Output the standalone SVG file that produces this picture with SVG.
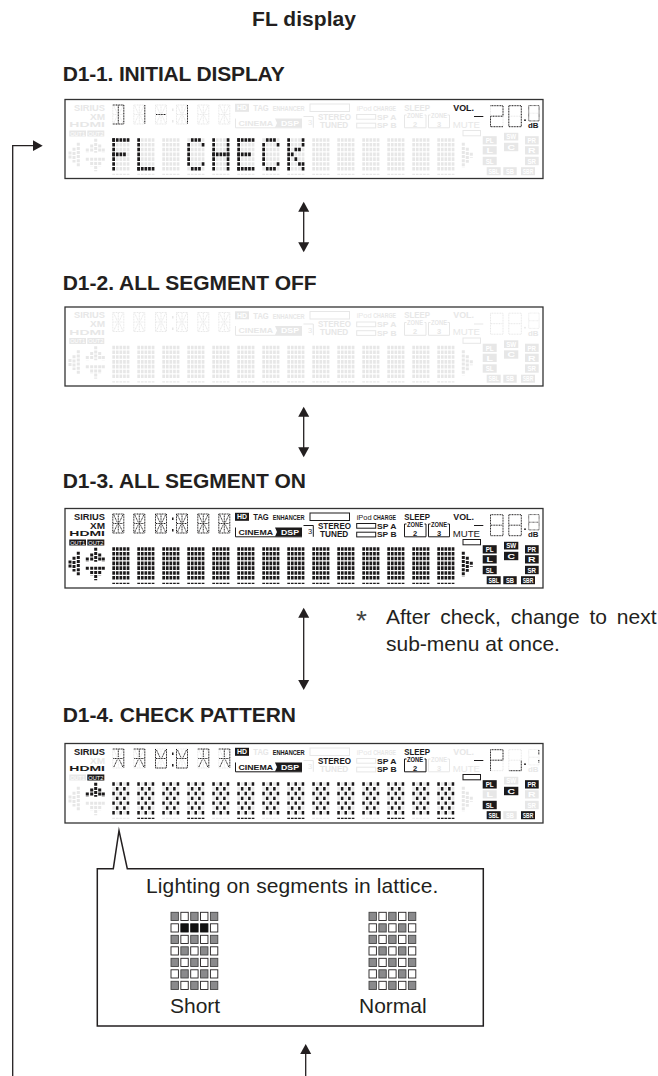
<svg xmlns="http://www.w3.org/2000/svg" width="658" height="1076" viewBox="0 0 658 1076">
<style>
text{font-family:"Liberation Sans",Arial,sans-serif}
.hd{font-size:21px;font-weight:700;fill:#231f20}
.bd{font-size:21px;fill:#231f20}
defs text{fill:currentColor}
defs text.w{fill:#fff}
defs text.b{font-weight:700}
.box{fill:currentColor}
.ol{fill:none;stroke:currentColor;stroke-width:1}
.sg{fill:none;stroke:currentColor;stroke-width:1;stroke-dasharray:1 .6}
.r{fill:none;stroke:currentColor;stroke-width:3.6;stroke-dasharray:2.7 .9}
.u{fill:none;stroke:currentColor;stroke-width:1.4;stroke-dasharray:2.7 .9}
.l{fill:none;stroke:currentColor;stroke-width:3.4;stroke-dasharray:2.5 4.7}
.v{fill:none;stroke:currentColor;stroke-width:2.7;stroke-dasharray:3.6 1.2}
.p{fill:none;stroke:currentColor;stroke-width:3;stroke-dasharray:3 1.1}
.gh{color:#e7e7e7}
.lit{color:#1c1a1b}
.pn{fill:#fff;stroke:#333;stroke-width:1.3}
.cn{fill:none;stroke:#231f20;stroke-width:1.3}
.c0{fill:#fff;stroke:#231f20;stroke-width:.9}
.c1{fill:#8a8a8c;stroke:#444;stroke-width:.9}
.c2{fill:#111;stroke:#111;stroke-width:.9}
</style>
<defs>
<marker id="ah" markerUnits="userSpaceOnUse" markerWidth="12" markerHeight="12" refX="8" refY="6" orient="auto-start-reverse"><path d="M0 .5L10 6L0 11.5Z" fill="#231f20"/></marker>

<!-- dot matrix -->
<g id="mx"><path class="r" d="M0 1.95H17.5M0 6.75H17.5M0 11.55H17.5M0 16.35H17.5M0 21.15H17.5M0 25.95H17.5M0 30.75H17.5"/></g>
<path id="ul" class="u" d="M0 36.4H17.5"/>
<g id="lat"><path class="l" d="M0 1.95H17.5M3.6 6.75H14M0 11.55H17.5M3.6 16.35H14M0 21.15H17.5M3.6 25.95H14M0 30.75H17.5"/></g>
<g id="mxs" transform="translate(0 38.5)">
<use href="#mx" x="47.3"/><use href="#mx" x="72.3"/><use href="#mx" x="97.3"/><use href="#mx" x="122.3"/><use href="#mx" x="147.3"/><use href="#mx" x="172.3"/><use href="#mx" x="197.3"/><use href="#mx" x="222.3"/><use href="#mx" x="247.3"/><use href="#mx" x="272.3"/><use href="#mx" x="297.3"/><use href="#mx" x="322.3"/><use href="#mx" x="347.3"/><use href="#mx" x="372.3"/>
<use href="#ul" x="47.3"/><use href="#ul" x="72.3"/><use href="#ul" x="97.3"/><use href="#ul" x="122.3"/><use href="#ul" x="147.3"/><use href="#ul" x="172.3"/><use href="#ul" x="197.3"/><use href="#ul" x="222.3"/><use href="#ul" x="247.3"/><use href="#ul" x="272.3"/><use href="#ul" x="297.3"/><use href="#ul" x="322.3"/><use href="#ul" x="347.3"/><use href="#ul" x="372.3"/>
</g>
<g id="lats">
<use href="#lat" x="47.3"/><use href="#lat" x="72.3"/><use href="#lat" x="97.3"/><use href="#lat" x="122.3"/><use href="#lat" x="147.3"/><use href="#lat" x="172.3"/><use href="#lat" x="197.3"/><use href="#lat" x="222.3"/><use href="#lat" x="247.3"/><use href="#lat" x="272.3"/><use href="#lat" x="297.3"/><use href="#lat" x="322.3"/><use href="#lat" x="347.3"/><use href="#lat" x="372.3"/>
<use href="#ul" x="72.3"/><use href="#ul" x="122.3"/><use href="#ul" x="172.3"/><use href="#ul" x="222.3"/><use href="#ul" x="272.3"/><use href="#ul" x="322.3"/><use href="#ul" x="372.3"/>
</g>
<g id="gF"><path class="v" d="M1.35 .15V32.7"/><path class="r" d="M0 1.95H17.5M0 16.35H13.7"/></g>
<g id="gL"><path class="v" d="M1.35 .15V32.7"/><path class="r" d="M0 30.75H17.5"/></g>
<g id="gC"><path class="v" d="M1.35 4.95V27.9"/><path class="r" d="M3.6 1.95H13.7M3.6 30.75H13.7M14.4 6.75h2.7M14.4 25.95h2.7"/></g>
<g id="gH"><path class="v" d="M1.35 .15V32.7M15.75 .15V32.7"/><path class="r" d="M0 16.35H17.5"/></g>
<g id="gE"><path class="v" d="M1.35 .15V32.7"/><path class="r" d="M0 1.95H17.5M0 16.35H13.7M0 30.75H17.5"/></g>
<g id="gK"><path class="v" d="M1.35 .15V32.7M15.75 .15V8.7M15.75 24.15V32.7"/><path class="r" d="M10.8 11.55h2.7M7.2 11.55h2.7M3.6 16.35h2.7M7.2 21.15h2.7M10.8 25.95h2.7"/></g>

<!-- 14-segment character -->
<g id="s14"><path class="sg" d="M.5 .5H11.5M.5 19.5H11.5M1 10H11M.5 .5V19.5M11.5 .5V19.5M6 1V19M1.5 1.5L5 9M10.5 1.5L7 9M1.5 18.5L5 11M10.5 18.5L7 11"/></g>
<g id="c14">
<use href="#s14" x="47.3" y="5"/><use href="#s14" x="68.3" y="5"/><use href="#s14" x="90" y="5"/><use href="#s14" x="111" y="5"/><use href="#s14" x="132.3" y="5"/><use href="#s14" x="153.3" y="5"/>
<path id="colon" class="box" d="M107 9h1.5v2.5H107zM107 20.5h1.5V23H107z"/>
</g>
<path id="gD1" class="sg" d="M.5 .5H11.5M.5 19.5H11.5M11.5 .5V19.5M6 1V19"/>
<path id="g1" class="sg" d="M11.5 .5V19.5"/>
<path id="gDash" class="sg" d="M1 10H11"/>
<path id="gA" class="sg" d="M.5 .5H11.5M11.5 .5V19.5M6 1V9M1 10H11M1.5 18.5L5 11M10.5 18.5L7 11"/>
<path id="gB" class="sg" d="M.5 .5V19.5M11.5 .5V19.5M1.5 1.5L5 9M10.5 1.5L7 9M1 10H11M.5 19.5H11.5"/>

<!-- left indicators -->
<path id="arL" class="p" d="M13.3 43.3V68M9 48.3V63M5 52V60"/>
<path id="arU" class="p" d="M30.7 39.3V53.3M26.7 45V53.3M34.7 45V53.3M22.3 49V53.3M38.3 49V53.3"/>
<path id="arD" class="p" d="M30.7 58.3V71.7M26.7 58.3V66.7M34.7 58.3V66.7M22.3 58.3V62.3M38.3 58.3V62.3"/>
<path id="arR" class="p" d="M398.3 43.3V68.3M402.3 48.3V63.3M406.3 53.3V58.3"/>

<!-- labels -->
<text id="sirius" class="b" x="9" y="11" font-size="9.2" textLength="31" lengthAdjust="spacingAndGlyphs">SIRIUS</text>
<text id="xm" class="b" x="25" y="20" font-size="9.5" textLength="15" lengthAdjust="spacingAndGlyphs">XM</text>
<text id="hdmi" class="b" x="4.3" y="27.7" font-size="7.8" textLength="35.7" lengthAdjust="spacingAndGlyphs">HDMI</text>
<g id="out1"><rect class="box" x="4.3" y="31" width="16.7" height="6"/><text class="w" x="5.3" y="36" font-size="5.5" textLength="14.7" lengthAdjust="spacingAndGlyphs">OUT1</text></g>
<g id="out2"><rect class="box" x="22.3" y="31" width="17" height="6"/><text class="w" x="23.3" y="36" font-size="5.5" textLength="15" lengthAdjust="spacingAndGlyphs">OUT2</text></g>
<g id="hdb"><rect class="box" x="170" y="4.3" width="14" height="8"/><text class="w b" x="172" y="10.9" font-size="7.5" textLength="10" lengthAdjust="spacingAndGlyphs">HD</text></g>
<text id="tag" class="b" x="188.3" y="11.7" font-size="8.4" textLength="15.5" lengthAdjust="spacingAndGlyphs">TAG</text>
<text id="enh" class="b" x="207.7" y="11.5" font-size="7.5" textLength="32" lengthAdjust="spacingAndGlyphs">ENHANCER</text>
<rect id="bar" class="ol" x="245" y="4.5" width="39.5" height="7.5"/>
<g id="cin"><path class="ol" d="M170.5 19V28.3H237"/><text class="b" x="173.5" y="26" font-size="7.5" textLength="34.5" lengthAdjust="spacingAndGlyphs">CINEMA</text><path class="box" d="M210 19H237V28H210L212 23.5Z"/><text class="w b" x="216" y="26" font-size="7" textLength="18" lengthAdjust="spacingAndGlyphs">DSP</text></g>
<g id="c3"><path class="ol" d="M238.5 17H248.3V28.3"/><text x="243" y="25.5" font-size="7.5">3</text></g>
<text id="stereo" class="b" x="253" y="20" font-size="8.2" textLength="33" lengthAdjust="spacingAndGlyphs">STEREO</text>
<text id="tuned" class="b" x="255" y="28.3" font-size="8.2" textLength="28.3" lengthAdjust="spacingAndGlyphs">TUNED</text>
<g id="ipod"><text x="291.7" y="11" font-size="8" textLength="15" lengthAdjust="spacingAndGlyphs">iPod</text><text class="b" x="308.3" y="11" font-size="7.5" textLength="22.7" lengthAdjust="spacingAndGlyphs">CHARGE</text></g>
<rect id="spar" class="ol" x="291.7" y="15" width="19" height="4.7"/>
<rect id="spbr" class="ol" x="291.7" y="23.7" width="19" height="4.7"/>
<text id="spa" class="b" x="312" y="20" font-size="8" textLength="19.5" lengthAdjust="spacingAndGlyphs">SP A</text>
<text id="spb" class="b" x="312" y="28.7" font-size="8" textLength="19.5" lengthAdjust="spacingAndGlyphs">SP B</text>
<text id="sleep" class="b" x="339.3" y="11" font-size="8.2" textLength="25.7" lengthAdjust="spacingAndGlyphs">SLEEP</text>
<g id="z2"><path class="ol" d="M341.5 15.5H339.5V28.3H361V15.5H359.5"/><text class="b" x="342" y="18.3" font-size="6.5" textLength="16" lengthAdjust="spacingAndGlyphs">ZONE</text><text class="b" x="348" y="27" font-size="7.5">2</text></g>
<g id="z3"><path class="ol" d="M365.5 15.5H363.5V28.3H384.5V15.5H382.5"/><text class="b" x="366" y="18.3" font-size="6.5" textLength="16" lengthAdjust="spacingAndGlyphs">ZONE</text><text class="b" x="372" y="27" font-size="7.5">3</text></g>
<text id="vol" class="b" x="388.3" y="11" font-size="8.5" textLength="20.7" lengthAdjust="spacingAndGlyphs">VOL.</text>
<path id="vdash" class="ol" d="M409 17H418.3"/>
<text id="mute" x="387.7" y="28.3" font-size="9" textLength="27.3" lengthAdjust="spacingAndGlyphs">MUTE</text>
<rect id="mbar" class="ol" x="398" y="31" width="17.5" height="5.3"/>
<text id="db" class="b" x="463" y="28.6" font-size="7.5" textLength="10.5" lengthAdjust="spacingAndGlyphs">dB</text>
<circle id="ddot" class="box" cx="460" cy="20.7" r=".9"/>

<!-- 7-segment digits -->
<g id="d8"><path class="sg" d="M.5 .5H13V21.5H.5ZM1 11H12.5"/></g>
<path id="d2" class="sg" d="M.5 .5H13V11H.5V21.5H13"/>
<path id="d0" class="sg" d="M.5 .5H13V21.5H.5Z"/>
<path id="dP" class="sg" d="M.5 21.5V.5H13V11H.5"/>
<path id="dU" class="sg" d="M13 11.5V21.5H.5"/>
<g id="digs"><use href="#d8" x="425" y="5.7"/><use href="#d8" x="443.3" y="5.7"/><use href="#d8" transform="translate(463.3 5.7) scale(.83 .73)"/><use href="#ddot"/></g>

<!-- speaker boxes -->
<g id="PL"><rect class="box" x="417.7" y="36.7" width="14" height="8.3"/><text class="w b" x="420.7" y="43.6" font-size="7" textLength="8" lengthAdjust="spacingAndGlyphs">PL</text></g>
<g id="Lb"><rect class="box" x="417.7" y="46.7" width="14" height="8.3"/><text class="w b" x="421.5" y="53.6" font-size="7" textLength="6.5" lengthAdjust="spacingAndGlyphs">L</text></g>
<g id="SL"><rect class="box" x="417.7" y="57.3" width="14" height="8.4"/><text class="w b" x="420.7" y="64.3" font-size="7" textLength="8" lengthAdjust="spacingAndGlyphs">SL</text></g>
<g id="SW"><rect class="box" x="439" y="33.3" width="14.3" height="7.7"/><text class="w b" x="441.2" y="39.6" font-size="7" textLength="10" lengthAdjust="spacingAndGlyphs">SW</text></g>
<g id="Cb"><rect class="box" x="439" y="43.3" width="14.3" height="8.4"/><text class="w b" x="442.5" y="50.3" font-size="7" textLength="7.5" lengthAdjust="spacingAndGlyphs">C</text></g>
<g id="PR"><rect class="box" x="460" y="36.7" width="13.7" height="8.3"/><text class="w b" x="462.5" y="43.6" font-size="7" textLength="8.5" lengthAdjust="spacingAndGlyphs">PR</text></g>
<g id="Rb"><rect class="box" x="460" y="46.7" width="13.7" height="8.3"/><text class="w b" x="463" y="53.6" font-size="7" textLength="7.5" lengthAdjust="spacingAndGlyphs">R</text></g>
<g id="SR"><rect class="box" x="460" y="57.3" width="13.7" height="8.4"/><text class="w b" x="462.5" y="64.3" font-size="7" textLength="8.5" lengthAdjust="spacingAndGlyphs">SR</text></g>
<g id="SBL"><rect class="box" x="421.7" y="67.7" width="14" height="8"/><text class="w b" x="423.5" y="74.4" font-size="7" textLength="10.5" lengthAdjust="spacingAndGlyphs">SBL</text></g>
<g id="SB"><rect class="box" x="438.3" y="67.7" width="13.4" height="8"/><text class="w b" x="441" y="74.4" font-size="7" textLength="8" lengthAdjust="spacingAndGlyphs">SB</text></g>
<g id="SBR"><rect class="box" x="456" y="67.7" width="14" height="8"/><text class="w b" x="457.8" y="74.4" font-size="7" textLength="10.5" lengthAdjust="spacingAndGlyphs">SBR</text></g>

<g id="all">
<use href="#mxs"/><use href="#c14"/><use href="#arL"/><use href="#arU"/><use href="#arD"/><use href="#arR"/>
<use href="#sirius"/><use href="#xm"/><use href="#hdmi"/><use href="#out1"/><use href="#out2"/><use href="#hdb"/><use href="#tag"/><use href="#enh"/><use href="#bar"/><use href="#cin"/><use href="#c3"/><use href="#stereo"/><use href="#tuned"/><use href="#ipod"/><use href="#spar"/><use href="#spbr"/><use href="#spa"/><use href="#spb"/><use href="#sleep"/><use href="#z2"/><use href="#z3"/><use href="#vol"/><use href="#vdash"/><use href="#mute"/><use href="#mbar"/><use href="#db"/><use href="#digs"/>
<use href="#PL"/><use href="#Lb"/><use href="#SL"/><use href="#SW"/><use href="#Cb"/><use href="#PR"/><use href="#Rb"/><use href="#SR"/><use href="#SBL"/><use href="#SB"/><use href="#SBR"/>
</g>

<!-- lattice cells -->
<g id="rA"><rect class="c1" x="0" width="7.4" height="8.2"/><rect class="c0" x="9.85" width="7.4" height="8.2"/><rect class="c1" x="19.7" width="7.4" height="8.2"/><rect class="c0" x="29.55" width="7.4" height="8.2"/><rect class="c1" x="39.4" width="7.4" height="8.2"/></g>
<g id="rB"><rect class="c0" x="0" width="7.4" height="8.2"/><rect class="c1" x="9.85" width="7.4" height="8.2"/><rect class="c0" x="19.7" width="7.4" height="8.2"/><rect class="c1" x="29.55" width="7.4" height="8.2"/><rect class="c0" x="39.4" width="7.4" height="8.2"/></g>
<g id="rS"><rect class="c0" x="0" width="7.4" height="8.2"/><rect class="c2" x="9.85" width="7.4" height="8.2"/><rect class="c2" x="19.7" width="7.4" height="8.2"/><rect class="c2" x="29.55" width="7.4" height="8.2"/><rect class="c0" x="39.4" width="7.4" height="8.2"/></g>
</defs>

<rect width="658" height="1076" fill="#fff"/>
<text id="title" class="hd" x="252" y="25.5" textLength="104">FL display</text>

<text id="h1" class="hd" x="62.7" y="81" textLength="222">D1-1. INITIAL DISPLAY</text>
<g id="panel-1" transform="translate(65 99.5)">
<rect class="pn" width="478" height="79"/>
<use href="#all" class="gh"/>
<g class="lit">
<use href="#gD1" x="47.3" y="5"/><use href="#g1" x="68.3" y="5"/><use href="#gDash" x="90" y="5"/><use href="#g1" x="111" y="5"/>
<g transform="translate(0 38.5)"><use href="#gF" x="47.3"/><use href="#gL" x="72.3"/><use href="#gC" x="122.3"/><use href="#gH" x="147.3"/><use href="#gE" x="172.3"/><use href="#gC" x="197.3"/><use href="#gK" x="222.3"/></g>
<use href="#vol"/><use href="#vdash"/><use href="#d2" x="425" y="5.7"/><use href="#d0" x="443.3" y="5.7"/><use href="#d0" transform="translate(463.3 5.7) scale(.83 .73)"/><use href="#ddot"/><use href="#db"/>
</g>
</g>

<text id="h2" class="hd" x="62.7" y="289.5" textLength="254">D1-2. ALL SEGMENT OFF</text>
<g id="panel-2" transform="translate(65 307)">
<rect class="pn" width="478" height="79"/>
<use href="#all" class="gh"/>
</g>

<text id="h3" class="hd" x="62.7" y="488.3" textLength="243.3">D1-3. ALL SEGMENT ON</text>
<g id="panel-3" transform="translate(65 508.5)">
<rect class="pn" width="478" height="79.5"/>
<use href="#all" class="lit"/>
</g>

<text id="h4" class="hd" x="62.7" y="722.3" textLength="233.3">D1-4. CHECK PATTERN</text>
<g id="panel-4" transform="translate(65 743.5)">
<rect class="pn" width="478" height="79.5"/>
<use href="#all" class="gh"/>
<g class="lit">
<use href="#gA" x="47.3" y="5"/><use href="#gA" x="68.3" y="5"/><use href="#gB" x="90" y="5"/><use href="#gB" x="111" y="5"/><use href="#gA" x="132.3" y="5"/><use href="#gA" x="153.3" y="5"/><use href="#colon"/>
<use href="#lats" y="38.5"/><use href="#arU"/>
<use href="#sirius"/><use href="#hdmi"/><use href="#out2"/><use href="#hdb"/><use href="#enh"/><use href="#cin"/><use href="#stereo"/><use href="#spa"/><use href="#spb"/><use href="#sleep"/><use href="#z2"/><use href="#vdash"/><use href="#mbar"/>
<use href="#dP" x="425" y="5.7"/><use href="#dU" x="443.3" y="5.7"/><use href="#ddot"/>
<path class="sg" d="M473.8 6.5V11.5M473.8 16.5V19"/>
<use href="#PL"/><use href="#SL"/><use href="#Cb"/><use href="#PR"/><use href="#SBL"/><use href="#SBR"/>
</g>
</g>

<g id="note">
<text x="356" y="630" font-size="28" style="fill:#444">*</text>
<text class="bd" x="386" y="624.3" word-spacing="4">After check, change to next</text>
<text class="bd" x="386" y="651">sub-menu at once.</text>
</g>

<g id="callout">
<path d="M97.3 868.7H113.3L119 830.7L127.3 868.7H483.3V1026H97.3Z" fill="#fff" stroke="#231f20" stroke-width="1.5" stroke-miterlimit="12"/>
<text class="bd" x="146" y="893.3" textLength="292.3">Lighting on segments in lattice.</text>
<g id="short" transform="translate(171 912.3)"><use href="#rA"/><use href="#rS" y="11.5"/><use href="#rA" y="23"/><use href="#rB" y="34.5"/><use href="#rA" y="46"/><use href="#rB" y="57.5"/><use href="#rA" y="69"/></g>
<g id="normal" transform="translate(369 912.3)"><use href="#rA"/><use href="#rB" y="11.5"/><use href="#rA" y="23"/><use href="#rB" y="34.5"/><use href="#rA" y="46"/><use href="#rB" y="57.5"/><use href="#rA" y="69"/></g>
<text class="bd" x="170" y="1013.3">Short</text>
<text class="bd" x="359" y="1013.3">Normal</text>
</g>

<g id="connectors">
<path class="cn" d="M303.7 203.7V250.3" marker-start="url(#ah)" marker-end="url(#ah)"/>
<path class="cn" d="M303.7 408.7V455.3" marker-start="url(#ah)" marker-end="url(#ah)"/>
<path class="cn" d="M303.7 609.7V688" marker-start="url(#ah)" marker-end="url(#ah)"/>
<path class="cn" d="M12.7 1076V145.7H40.7" marker-end="url(#ah)"/>
<path class="cn" d="M305.7 1076V1046" marker-end="url(#ah)"/>
</g>
</svg>
